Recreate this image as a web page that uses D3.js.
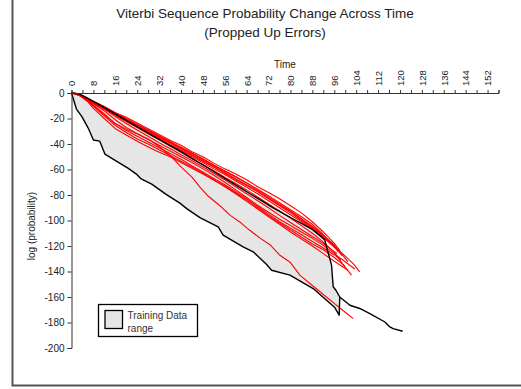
<!DOCTYPE html>
<html lang="en">
  <head>
    <meta charset="UTF-8" />
    <title>Viterbi Sequence Probability Change Across Time</title>
    <script src="https://d3js.org/d3.v7.min.js"></script>
    <style>
      body {
        margin: 0;
        background: #fff;
      }
      .chart text {
        font-family: "Liberation Sans", Arial, sans-serif;
        fill: #222;
      }
    </style>
  </head>
  <body>
    <div class="chart"></div>
  </body>

  <script>
    // ---- data ----
    var xTicks = [0, 4, 8, 12, 16, 20, 24, 28, 32, 36, 40, 44, 48, 52, 56, 60, 64, 68, 72, 76, 80, 84, 88, 92, 96, 100, 104, 108, 112, 116, 120, 124, 128, 132, 136, 140, 144, 148, 152, 156];
    var xLabels = [0, 8, 16, 24, 32, 40, 48, 56, 64, 72, 80, 88, 96, 104, 112, 120, 128, 136, 144, 152];
    var yTicks = [0, -20, -40, -60, -80, -100, -120, -140, -160, -180, -200];

    // training data range: upper and lower edge, then the one long run left
    var trainUpper = [[0, 0], [3, -0.8], [10, -9], [20, -21.5], [30, -34], [40, -46], [50, -59], [58, -69.5], [66, -80], [74, -90.5], [82, -100], [88, -107], [92.5, -115], [93.2, -120.7], [95, -135], [95.6, -152], [96.6, -154.7], [98, -160]];
    var trainLower = [[0, 0], [1.8, -12.6], [3.8, -18.5], [6.1, -27.5], [8, -36.9], [10.3, -37.7], [12.2, -47.9], [14, -50.3], [17.6, -55], [20.6, -58.9], [23.7, -63.6], [25.3, -67.1], [29.3, -71.5], [34.7, -79.7], [39.6, -86.4], [42.1, -90.7], [46.9, -97.8], [53.6, -105], [55.4, -111.5], [62.7, -120.7], [66.4, -124.6], [71.2, -134.3], [73.1, -139], [79.8, -142.9], [88.3, -153.4], [96.2, -168.3], [97.8, -174.3], [98, -160]];
    var trainTail = [[98, -160], [101.7, -166.5], [105.3, -169], [109, -173], [114.5, -179.6], [116.3, -183.5], [117.5, -184.8], [121, -186.9]];

    // test runs with propped up errors
    var runA1 = [[0, 0], [2, -0.5], [5, -3], [8, -6.5], [12, -10.5], [16, -15.5], [20, -19], [24, -23.5], [28, -28], [32, -32.5], [36, -37], [40, -41], [44, -46], [48, -50], [52, -55], [56, -59.5], [60, -63.5], [64, -68], [68, -73.5], [72, -78], [76, -83], [80, -88.5], [84, -94], [88, -101], [92, -109], [96, -118], [98, -123.5]];
    var runA2 = [[0, 0], [2, -0.4], [5, -3.5], [8, -7], [12, -11.5], [16, -16], [20, -20.5], [24, -25], [28, -29.5], [32, -34], [36, -38.5], [40, -43], [44, -47.5], [48, -52], [52, -57], [56, -61.5], [60, -66], [64, -70.5], [68, -75.5], [72, -80.5], [76, -86], [80, -91.5], [84, -97], [88, -103], [92, -111], [96.2, -120.7]];
    var runA3 = [[0, 0], [2, -1], [5, -4], [8, -8], [12, -12.5], [16, -17], [20, -21.5], [24, -26], [28, -30.5], [32, -35], [36, -39.5], [40, -44.5], [44, -49], [48, -53.5], [52, -58], [56, -62.5], [60, -67.5], [64, -72], [68, -77], [72, -82.5], [76, -88], [80, -93], [84, -99], [88, -105.5], [92, -112], [96, -119], [97.4, -124.6]];
    var runA4 = [[0, 0], [2, -0.8], [5, -3.5], [8, -7.5], [12, -12], [16, -16.5], [20, -21], [24, -25.5], [28, -30], [32, -34.5], [36, -39], [40, -43.5], [44, -48.5], [48, -53], [52, -58], [56, -63], [60, -68], [64, -72.5], [68, -77.5], [72, -83], [76, -88.5], [80, -94], [84, -100], [88, -106], [92, -113], [96, -121], [99, -127], [101, -132.5]];
    var runA5 = [[0, 0], [2, -0.6], [5, -3.8], [8, -7.8], [12, -12.2], [16, -16.8], [20, -21.6], [24, -26.2], [28, -31], [32, -35.5], [36, -40.5], [40, -45], [44, -50], [48, -54.5], [52, -59.5], [56, -64], [60, -69], [64, -74], [68, -79], [72, -84.5], [76, -90], [80, -95.5], [84, -101], [88, -107], [92, -113.5], [96, -120], [100, -128], [103, -134], [105.3, -140.3]];
    var runA6 = [[0, 0], [2, -1], [5, -4.2], [8, -8.2], [12, -13], [16, -17.5], [20, -22.5], [24, -27], [28, -32], [32, -36.5], [36, -41.5], [40, -46.5], [44, -51.5], [48, -56], [52, -61], [56, -66], [60, -71], [64, -76], [68, -81.5], [72, -87], [76, -92.5], [80, -98], [84, -104], [88, -110], [92, -117], [96, -125], [99, -134], [102.3, -142.9]];
    var runA7 = [[0, 0], [2, -0.7], [5, -3.2], [8, -6.8], [12, -11], [16, -15.5], [20, -20], [24, -24.5], [28, -29], [32, -33.5], [36, -38], [40, -42.5], [44, -47], [48, -51.5], [52, -56.5], [56, -61], [60, -65.5], [64, -70.5], [68, -76], [72, -81.5], [76, -87], [80, -92.5], [84, -98.5], [88, -104.5], [92, -111.5], [96, -120], [99, -128]];
    var runB1 = [[0, 0], [3, -2], [6, -7], [8, -12], [12, -20], [16, -28], [20, -33], [25, -39], [31, -45.5], [36, -50], [40, -54.5], [44, -59], [48, -63.5], [52, -68.5], [56, -73], [60, -78.5], [64, -84], [68, -90], [72, -96], [76, -102], [80, -107.5], [84, -113], [88, -118.5], [92, -123], [96, -129], [100, -136]];
    var runB2 = [[0, 0], [3, -1.8], [6, -6], [8, -9.5], [12, -16.5], [16, -24], [20, -29.5], [24, -34], [28, -38.5], [32, -43], [36, -47.5], [40, -52], [44, -57], [48, -62], [52, -67], [56, -72], [60, -77.5], [64, -83], [68, -89], [72, -95], [76, -101], [80, -106], [84, -111], [88, -116.5], [92, -121.5], [96, -127], [98.5, -131]];
    var runB3 = [[0, 0], [3, -1.5], [6, -5.5], [8, -8.5], [12, -14], [16, -21], [20, -27], [24, -32], [28, -36.5], [32, -41], [36, -45.5], [40, -50], [44, -54.5], [48, -59.5], [52, -64.5], [56, -70], [60, -76], [64, -82], [68, -88], [72, -93.5], [76, -99], [80, -104], [84, -109], [88, -114], [92, -119.5], [96, -126], [103.5, -138]];
    var runB4 = [[0, 0], [3, -1.2], [6, -4.5], [8, -7.5], [12, -12.5], [16, -18.5], [20, -24], [24, -29], [28, -34], [32, -39], [36, -43.5], [40, -48.5], [44, -53], [48, -58], [52, -63], [56, -68], [60, -73.5], [64, -79], [68, -84.5], [72, -90], [76, -96], [80, -101.5], [84, -107], [88, -112.5], [92, -118], [97, -126]];
    var runB5 = [[0, 0], [3, -1.6], [6, -6.5], [8, -10.5], [12, -18], [16, -25.5], [20, -31], [24, -36], [28, -40], [32, -44.5], [36, -49], [40, -53.5], [44, -58], [48, -63], [52, -68], [56, -73.5], [60, -79], [64, -85], [68, -91], [72, -97], [76, -103], [80, -109], [84, -114.5], [88, -120], [92, -126], [96, -132], [101, -139]];
    var runC = [[0, 0], [3, -2], [6, -6.5], [8, -10], [12, -17], [16, -24], [20, -28.5], [24, -32], [28, -36], [32, -42], [36, -49], [40, -58], [44, -66], [47, -74], [50, -81], [54, -88], [58, -96], [62, -102], [65, -107.5], [69, -114], [72.5, -119], [76, -127], [80, -133], [83.5, -143], [88, -151], [92, -158], [96, -165], [100, -172], [102.9, -177]];

    var testRuns = [runA1, runA2, runA3, runA4, runA5, runA6, runA7, runB1, runB2, runB3, runB4, runB5, runC];

    // ---- layout ----
    var margin = { top: 93, right: 22, bottom: 41, left: 71.5 };
    var fullWidth = 521;
    var fullHeight = 389;
    var width = 427;
    var height = 255;

    var svg = d3
      .select(".chart")
      .append("svg")
      .attr("width", fullWidth)
      .attr("height", fullHeight);

    // outer frame (only left and bottom edges fall inside the picture)
    svg
      .append("rect")
      .attr("x", 12.5)
      .attr("y", -20)
      .attr("width", 600)
      .attr("height", 405.5)
      .attr("fill", "none")
      .attr("stroke", "#555")
      .attr("stroke-width", 2);

    // title
    svg
      .append("text")
      .attr("x", 265)
      .attr("y", 18)
      .attr("text-anchor", "middle")
      .style("font-size", "13.5px")
      .text("Viterbi Sequence Probability Change Across Time");
    svg
      .append("text")
      .attr("x", 265)
      .attr("y", 37)
      .attr("text-anchor", "middle")
      .style("font-size", "13.5px")
      .text("(Propped Up Errors)");

    var g = svg
      .append("g")
      .attr("transform", "translate(" + margin.left + ", " + margin.top + ")");

    var x = d3.scaleLinear().domain([0, 156]).range([0, width]);
    var y = d3.scaleLinear().domain([-200, 0]).range([height, 0]);

    var line = d3
      .line()
      .x(function (d) {
        return x(d[0]);
      })
      .y(function (d) {
        return y(d[1]);
      });

    // Training range band: upper edge then lower edge backwards
    var band = trainUpper.concat(trainLower.slice().reverse());
    g.append("path")
      .datum(band)
      .attr("fill", "#e6e6e6")
      .attr("stroke", "none")
      .attr("d", function (d) {
        return line(d) + "Z";
      });

    // test runs
    g.selectAll(".run")
      .data(testRuns)
      .enter()
      .append("path")
      .attr("class", "run")
      .attr("fill", "none")
      .attr("stroke", "#ff0000")
      .attr("stroke-width", 1.1)
      .attr("stroke-linejoin", "round")
      .attr("d", line);

    // training edges
    g.selectAll(".edge")
      .data([trainUpper, trainLower, trainTail])
      .enter()
      .append("path")
      .attr("class", "edge")
      .attr("fill", "none")
      .attr("stroke", "#000")
      .attr("stroke-width", 1.4)
      .attr("stroke-linejoin", "round")
      .attr("d", line);

    // Add X axis on top
    var xAxis = g
      .append("g")
      .call(
        d3
          .axisTop(x)
          .tickValues(xTicks)
          .tickSize(3)
          .tickFormat(function (d) {
            return xLabels.indexOf(d) >= 0 ? String(d) : "";
          })
      );
    xAxis
      .selectAll("text")
      .attr("transform", "rotate(-90)")
      .attr("x", 7)
      .attr("y", 0)
      .attr("dy", "0.35em")
      .attr("text-anchor", "start")
      .style("font-size", "9.5px");

    // Add Y axis
    var yAxis = g
      .append("g")
      .call(
        d3
          .axisLeft(y)
          .tickValues(yTicks)
          .tickSize(4)
          .tickPadding(3)
          .tickFormat(function (d) {
            return String(d);
          })
      );
    yAxis.selectAll("text").style("font-size", "10px");

    g.selectAll(".domain").attr("stroke", "#333");
    g.selectAll(".tick line").attr("stroke", "#333");

    // axis titles
    svg
      .append("text")
      .attr("x", margin.left + width / 2)
      .attr("y", 68)
      .attr("text-anchor", "middle")
      .style("font-size", "10px")
      .text("Time");
    svg
      .append("text")
      .attr("transform", "translate(35, 226) rotate(-90)")
      .attr("text-anchor", "middle")
      .style("font-size", "10px")
      .text("log (probability)");

    // legend
    var legend = svg.append("g").attr("transform", "translate(98.5, 304.5)");
    legend
      .append("rect")
      .attr("width", 99)
      .attr("height", 32)
      .attr("fill", "#fff")
      .attr("stroke", "#000")
      .attr("stroke-width", 1.3);
    legend
      .append("rect")
      .attr("x", 6.5)
      .attr("y", 6)
      .attr("width", 17.5)
      .attr("height", 18)
      .attr("fill", "#e6e6e6")
      .attr("stroke", "#000")
      .attr("stroke-width", 1.3);
    legend
      .append("text")
      .attr("x", 29)
      .attr("y", 14.5)
      .style("font-size", "10px")
      .style("fill", "#333")
      .text("Training Data");
    legend
      .append("text")
      .attr("x", 29)
      .attr("y", 27)
      .style("font-size", "10px")
      .style("fill", "#333")
      .text("range");
  </script>
</html>
